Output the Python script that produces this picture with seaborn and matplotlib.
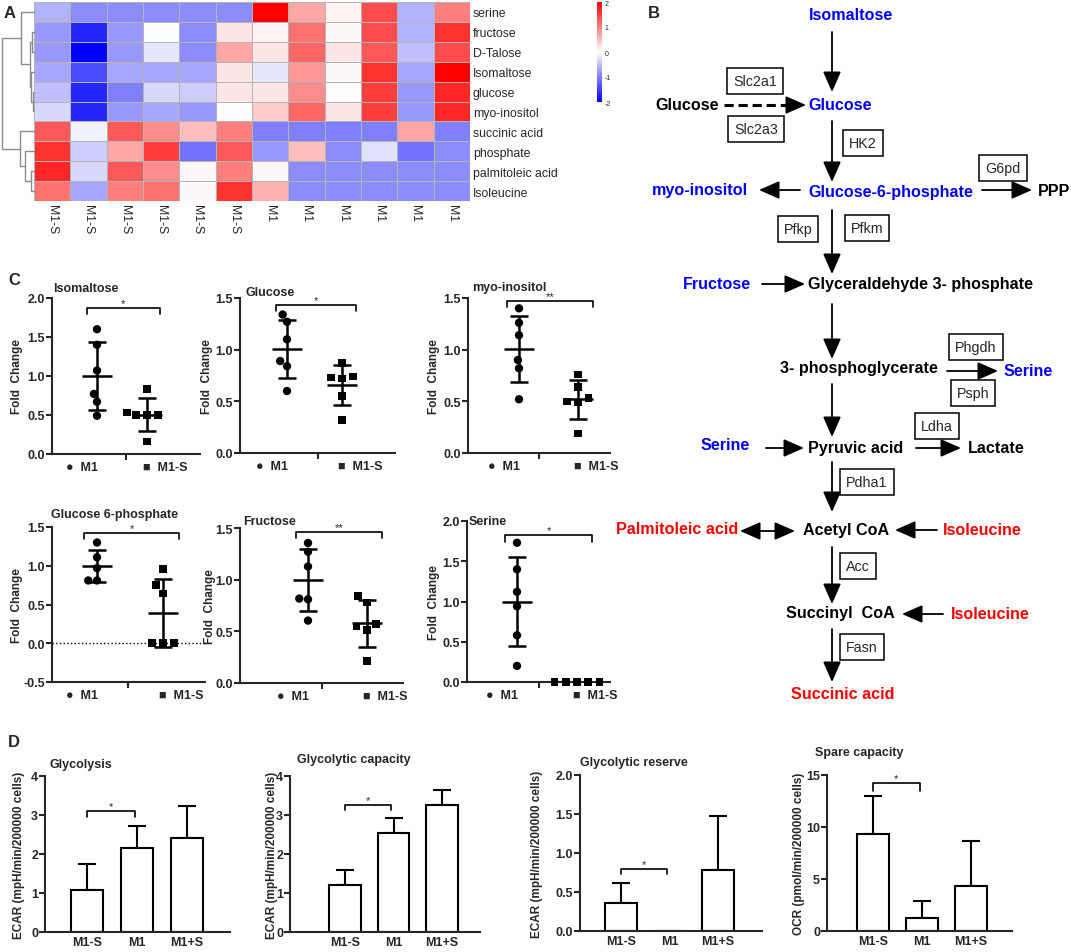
import numpy as np
import pandas as pd
import matplotlib
matplotlib.use("Agg")
import matplotlib.pyplot as plt
from matplotlib.ticker import FormatStrFormatter
import seaborn as sns

W, H = 1071, 953

# ── A: heatmap (z-scores) ────────────────────────────────────────────────────
hm_rows = ["serine", "fructose", "D-Talose", "Isomaltose", "glucose", "myo-inositol",
           "succinic acid", "phosphate", "palmitoleic acid", "Isoleucine"]
hm_cols = ["M1-S"] * 6 + ["M1"] * 6
z_serine = [-0.6, -0.9, -0.9, -0.9, -0.9, -0.9, 2.0, 0.7, 0.1, 1.4, -0.6, 1.0]
z_fructose = [-0.8, -1.7, -0.8, 0.0, -0.9, 0.2, 0.1, 1.1, 0.05, 1.4, -0.6, 1.6]
z_talose = [-0.8, -2.0, -0.8, -0.2, -0.9, 0.7, 0.2, 1.2, 0.2, 1.3, -0.5, 1.4]
z_isomaltose = [-0.7, -1.4, -0.7, -0.7, -0.7, 0.2, -0.2, 0.8, 0.05, 1.6, -0.7, 2.0]
z_glucose = [-0.5, -1.7, -1.0, -0.3, -0.4, 0.2, 0.2, 0.9, 0.0, 1.5, -0.8, 1.7]
z_inositol = [-0.3, -1.7, -0.8, -0.7, -0.8, 0.0, 0.4, 1.2, 0.2, 1.5, -0.8, 1.7]
z_succinic = [1.3, -0.1, 1.3, 0.9, 0.5, 1.0, -1.0, -1.0, -1.0, -1.0, 0.7, -1.0]
z_phosphate = [1.6, -0.4, 0.7, 1.5, -1.1, 1.3, -0.8, 0.5, -0.9, -0.25, -1.1, -0.9]
z_palmitoleic = [1.7, -0.3, 1.3, 0.9, 0.05, 1.0, 0.05, -0.9, -0.9, -0.9, -0.9, -0.9]
z_isoleucine = [1.1, -0.7, 1.0, 1.1, 0.05, 1.6, 0.6, -0.9, -0.9, -0.9, -0.9, -0.9]

# row dendrogram: (child a, child b, merge height), scipy-style node numbering
dendro_merges = [(1, 2, 0.05), (4, 5, 0.04), (3, 11, 0.10), (10, 12, 0.13),
                 (0, 13, 0.42), (8, 9, 0.09), (7, 15, 0.28), (6, 16, 0.45),
                 (14, 17, 1.0)]

# ── C: fold change per sample ────────────────────────────────────────────────
fc_groups = ["M1", "M1-S"]
iso_m1 = [1.60, 1.40, 1.07, 0.77, 0.67, 0.49]
iso_m1s = [0.83, 0.50, 0.50, 0.50, 0.53, 0.16]
glc_m1 = [1.34, 1.27, 1.10, 0.89, 0.84, 0.60]
glc_m1s = [0.87, 0.73, 0.74, 0.72, 0.55, 0.32]
ino_m1 = [1.40, 1.26, 1.14, 0.90, 0.82, 0.52]
ino_m1s = [0.76, 0.64, 0.53, 0.49, 0.50, 0.19]
g6p_m1 = [1.30, 1.11, 0.97, 0.81, 0.81]
g6p_m1s = [0.96, 0.75, 0.64, 0.0, 0.0, 0.0]
fru_m1 = [1.355, 1.27, 1.127, 0.817, 0.81, 0.604]
fru_m1s = [0.84, 0.78, 0.57, 0.51, 0.547, 0.21]
ser_m1 = [1.73, 1.40, 1.12, 0.94, 0.58, 0.20]
ser_m1s = [0.0, 0.0, 0.0, 0.0, 0.0]
fc_titles = ["Isomaltose", "Glucose", "myo-inositol", "Glucose 6-phosphate", "Fructose", "Serine"]
fc_stars = ["*", "*", "**", "*", "**", "*"]

# ── D: Seahorse bars (mean, SD) ──────────────────────────────────────────────
d_groups = ["M1-S", "M1", "M1+S"]
glycolysis_mean = [1.07, 2.15, 2.42]
glycolysis_sd = [0.68, 0.58, 0.80]
capacity_mean = [1.20, 2.55, 3.25]
capacity_sd = [0.40, 0.37, 0.39]
reserve_mean = [0.36, 0.0, 0.78]
reserve_sd = [0.26, 0.0, 0.70]
spare_mean = [9.3, 1.25, 4.3]
spare_sd = [3.7, 1.6, 4.35]
d_titles = ["Glycolysis", "Glycolytic capacity", "Glycolytic reserve", "Spare capacity"]
d_ylabels = ["ECAR (mpH/min/200000 cells)"] * 3 + ["OCR (pmol/min/200000 cells)"]

# ── B: pathway text ──────────────────────────────────────────────────────────
BLUE, RED, BLACK = "#0000ff", "#ff0000", "black"
path_nodes = [
    ("Isomaltose", 851, 15, BLUE, "center"),
    ("Glucose", 719, 105, BLACK, "right"),
    ("Glucose", 808, 106, BLUE, "left"),
    ("myo-inositol", 748, 191, BLUE, "right"),
    ("Glucose-6-phosphate", 808, 192, BLUE, "left"),
    ("PPP", 1038, 191, BLACK, "left"),
    ("Fructose", 751, 285, BLUE, "right"),
    ("Glyceraldehyde 3- phosphate", 808, 285, BLACK, "left"),
    ("3- phosphoglycerate", 938, 369, BLACK, "right"),
    ("Serine", 1004, 372, BLUE, "left"),
    ("Serine", 750, 446, BLUE, "right"),
    ("Pyruvic acid", 808, 449, BLACK, "left"),
    ("Lactate", 968, 449, BLACK, "left"),
    ("Palmitoleic acid", 738, 530, RED, "right"),
    ("Acetyl CoA", 803, 531, BLACK, "left"),
    ("Isoleucine", 943, 531, RED, "left"),
    ("Succinyl  CoA", 895, 614, BLACK, "right"),
    ("Isoleucine", 951, 615, RED, "left"),
    ("Succinic acid", 843, 695, RED, "center"),
]
path_enzymes = [("Slc2a1", 755, 82), ("Slc2a3", 756, 130), ("HK2", 863, 144),
                ("G6pd", 1003, 169), ("Pfkp", 798, 230), ("Pfkm", 867, 229),
                ("Phgdh", 976, 348), ("Psph", 973, 394), ("Ldha", 937, 427),
                ("Pdha1", 867, 483), ("Acc", 858, 567), ("Fasn", 862, 648)]
path_arrows = [((832, 33), (832, 93)), ((832, 122), (832, 183)), ((800, 191), (759, 191)),
               ((982, 191), (1032, 191)), ((832, 211), (832, 275)), ((762, 285), (805, 285)),
               ((832, 305), (832, 360)), ((947, 372), (998, 372)), ((832, 385), (832, 438)),
               ((766, 449), (804, 449)), ((916, 449), (961, 449)), ((832, 463), (832, 513)),
               ((937, 531), (895, 531)), ((832, 548), (832, 605)), ((943, 615), (902, 615)),
               ((832, 630), (832, 683))]

# ── figure ───────────────────────────────────────────────────────────────────
sns.set_style("ticks")
plt.rcParams["font.family"] = ["Liberation Sans", "DejaVu Sans"]
plt.rcParams["axes.linewidth"] = 1.5
plt.rcParams["axes.unicode_minus"] = False

fig = plt.figure(figsize=(W / 100, H / 100), dpi=100)


def px_axes(l, t, r, b):
    return fig.add_axes([l / W, 1 - b / H, (r - l) / W, (b - t) / H])


over = fig.add_axes([0, 0, 1, 1])
over.set_xlim(0, W)
over.set_ylim(H, 0)
over.axis("off")
over.set_zorder(10)

for letter, x, y in [("A", 4, 13), ("B", 648, 13), ("C", 8, 281), ("D", 8, 743)]:
    over.text(x, y, letter, fontsize=12, fontweight="bold", va="center")

# A
hm = pd.DataFrame([z_serine, z_fructose, z_talose, z_isomaltose, z_glucose, z_inositol,
                   z_succinic, z_phosphate, z_palmitoleic, z_isoleucine], index=hm_rows)
ax_hm = px_axes(34, 3, 470, 202)
ax_cb = px_axes(597, 3, 602, 103)
sns.heatmap(hm, ax=ax_hm, cmap="bwr", vmin=-2, vmax=2, linewidths=0.6,
            linecolor="#b4b4b4", cbar_ax=ax_cb, xticklabels=hm_cols, yticklabels=hm_rows)
ax_hm.yaxis.tick_right()
ax_hm.tick_params(length=0, labelsize=8.8, pad=2)
plt.setp(ax_hm.get_yticklabels(), rotation=0, ha="left")
plt.setp(ax_hm.get_xticklabels(), rotation=-90)
ax_hm.set_xlabel("")
ax_hm.set_ylabel("")
ax_cb.tick_params(length=0, labelsize=5, pad=2)
ax_hm.collections[0].colorbar.outline.set_visible(False)

ax_dg = px_axes(2, 3, 34, 202)
ax_dg.set_xlim(1, 0)
ax_dg.set_ylim(len(hm_rows), 0)
ax_dg.axis("off")
pos = {i: i + 0.5 for i in range(len(hm_rows))}
hgt = {i: 0.0 for i in range(len(hm_rows))}
for k, (a, b, h) in enumerate(dendro_merges):
    ax_dg.plot([hgt[a], h, h, hgt[b]], [pos[a], pos[a], pos[b], pos[b]],
               color="#8c8c8c", lw=1, clip_on=False)
    node = len(hm_rows) + k
    pos[node] = (pos[a] + pos[b]) / 2
    hgt[node] = h

# B
for txt, x, y, col, ha in path_nodes:
    over.text(x, y, txt, color=col, ha=ha, va="center", fontsize=11.6, fontweight="bold")
for txt, x, y in path_enzymes:
    over.text(x, y, txt, ha="center", va="center", fontsize=10.3,
              bbox=dict(boxstyle="square,pad=0.42", fc="white", ec="black", lw=1.1))
head = "-|>,head_length=0.5,head_width=0.22"
for tail, tip in path_arrows:
    over.annotate("", xy=tip, xytext=tail,
                  arrowprops=dict(arrowstyle=head, color="k", lw=1.3, mutation_scale=25,
                                  shrinkA=0, shrinkB=0))
over.plot([724, 786], [106, 106], color="k", lw=2.2, ls=(0, (3, 1.6)))
over.annotate("", xy=(806, 106), xytext=(784, 106),
              arrowprops=dict(arrowstyle=head, color="k", lw=1.3, mutation_scale=25,
                              shrinkA=0, shrinkB=0))
over.annotate("", xy=(795, 532), xytext=(740, 532),
              arrowprops=dict(arrowstyle="<|-|>,head_length=0.5,head_width=0.22", color="k",
                              lw=1.3, mutation_scale=25, shrinkA=0, shrinkB=0))

# C
fc_sets = [(iso_m1, iso_m1s), (glc_m1, glc_m1s), (ino_m1, ino_m1s),
           (g6p_m1, g6p_m1s), (fru_m1, fru_m1s), (ser_m1, ser_m1s)]
# l, t, r, b, M1 px, M1-S px, ymin, ymax, bracket y, ylabel px, title x, title y
c_layout = [
    (52, 299, 200, 455, 97, 147, 0.0, 2.0, 1.87, 23, 53, 289),
    (240, 299, 395, 454, 287, 342, 0.0, 1.5, 1.43, 213, 245, 293),
    (468, 299, 610, 454, 519, 578, 0.0, 1.5, 1.47, 440, 472, 288),
    (52, 528, 205, 683, 97, 163, -0.5, 1.5, 1.42, 23, 51, 515),
    (240, 529, 403, 684, 308, 367, 0.0, 1.5, 1.465, 216, 243, 522),
    (467, 522, 610, 683, 517, 577, 0.0, 2.0, 1.82, 440, 469, 522),
]
for (m1, m1s), title, star, lay in zip(fc_sets, fc_titles, fc_stars, c_layout):
    l, t, r, b, p0, p1, y0, y1, by, lab_px, tx, ty = lay
    ppu = p1 - p0
    ax = px_axes(l, t, r, b)
    ax.patch.set_alpha(0)
    # one swarm per group (own marker), placed at its numeric group slot
    for i, (vals, mk, sz, lw) in enumerate([(m1, "o", 6, 0), (m1s, "s", 5.5, 2.2)]):
        df = pd.DataFrame({"slot": [i] * len(vals), "value": vals})
        sns.swarmplot(data=df, x="slot", y="value", native_scale=True, marker=mk,
                      color="k", size=sz, linewidth=lw, edgecolor="none", ax=ax)
    if y0 == min(m1 + m1s):
        for c in ax.collections:
            c.set_clip_on(False)
    for i, vals in enumerate([m1, m1s]):
        mu, sd = np.mean(vals), np.std(vals, ddof=1)
        ax.hlines(mu, i - 15 / ppu, i + 15 / ppu, color="k", lw=1.8)
        ax.vlines(i, mu - sd, mu + sd, color="k", lw=1.8)
        ax.hlines([mu - sd, mu + sd], i - 9 / ppu, i + 9 / ppu, color="k", lw=1.8)
    if y0 < 0:
        ax.axhline(0, color="k", lw=1, ls=":")
    ax.plot([-0.2, -0.2, 1.25, 1.25], [by - 0.04 * (y1 - y0), by, by, by - 0.04 * (y1 - y0)],
            color="k", lw=1.2, clip_on=False)
    ax.text(0.525, by, star, ha="center", va="bottom", fontsize=8)
    ax.set_xlim((l - p0) / ppu, (r - p0) / ppu)
    ax.set_ylim(y0, y1)
    ax.set_yticks(np.arange(y0, y1 + 0.01, 0.5))
    ax.yaxis.set_major_formatter(FormatStrFormatter("%.1f"))
    ax.set_xticks([-15 / ppu, 1 + 18 / ppu])
    ax.set_xticklabels(["\u25cf  " + fc_groups[0], "\u25a0  " + fc_groups[1]])
    ax.set_xticks([((l + r) / 2 - p0) / ppu], minor=True)
    ax.tick_params(axis="x", which="major", length=0, pad=5)
    ax.tick_params(axis="x", which="minor", length=4, width=1.5)
    ax.tick_params(axis="y", length=4, width=1.5, pad=1)
    for lab in ax.get_xticklabels() + ax.get_yticklabels():
        lab.set_fontsize(9)
        lab.set_fontweight("bold")
    ax.set_xlabel("")
    ax.set_ylabel("Fold  Change", fontsize=8.5, fontweight="bold")
    ax.yaxis.set_label_coords((lab_px - l) / (r - l), 0.5)
    sns.despine(ax=ax)
    over.text(tx, ty, title, fontsize=9, fontweight="bold", va="center")

# D
d_sets = [(glycolysis_mean, glycolysis_sd), (capacity_mean, capacity_sd),
          (reserve_mean, reserve_sd), (spare_mean, spare_sd)]
# l, t, r, b, first bar px, bar step px, ymax, ytick step, bracket y, bracket drop,
# ylabel px, title x, title y
d_layout = [
    (45, 777, 230, 933, 87, 50, 4, 1, 3.1, 0.14, 25, 50, 765),
    (290, 777, 480, 933, 345, 48.5, 4, 1, 3.26, 0.14, 278, 297, 760),
    (580, 776, 762, 932, 621, 48.5, 2.0, 0.5, 0.80, 0.07, 543, 580, 763),
    (827, 776, 1012, 932, 873, 49, 15, 5, 14.2, 0.7, 805, 815, 753),
]
for (means, sds), title, ylab, lay in zip(d_sets, d_titles, d_ylabels, d_layout):
    l, t, r, b, p0, step, ymax, ystep, by, drop, lab_px, tx, ty = lay
    ax = px_axes(l, t, r, b)
    ax.patch.set_alpha(0)
    df = pd.DataFrame({"group": d_groups, "value": means})
    sns.barplot(data=df, x="group", y="value", order=d_groups, color="white",
                edgecolor="k", linewidth=1.5, width=0.65, errorbar=None, ax=ax)
    keep = [i for i, s in enumerate(sds) if s > 0]
    ax.errorbar(keep, [means[i] for i in keep], yerr=[[0] * len(keep), [sds[i] for i in keep]],
                fmt="none", ecolor="k", elinewidth=1.5, capsize=6.5, capthick=1.5, zorder=0.5)
    ax.plot([0, 0, 0.95, 0.95], [by - drop, by, by, by - drop], color="k", lw=1.2, clip_on=False)
    ax.text(0.475, by, "*", ha="center", va="bottom", fontsize=8)
    ax.set_xlim((l - p0) / step, (r - p0) / step)
    ax.set_ylim(0, ymax)
    ax.set_yticks(np.arange(0, ymax + 0.01, ystep))
    if ystep < 1:
        ax.yaxis.set_major_formatter(FormatStrFormatter("%.1f"))
    ax.tick_params(axis="x", length=0, pad=3)
    ax.tick_params(axis="y", length=4, width=1.5, pad=1)
    for lab in ax.get_xticklabels() + ax.get_yticklabels():
        lab.set_fontsize(9)
        lab.set_fontweight("bold")
    ax.set_xlabel("")
    ax.set_ylabel(ylab, fontsize=8.5, fontweight="bold")
    ax.yaxis.set_label_coords((lab_px - l) / (r - l), 0.5)
    sns.despine(ax=ax)
    over.text(tx, ty, title, fontsize=9, fontweight="bold", va="center")

fig.savefig("out.png", dpi=100)
